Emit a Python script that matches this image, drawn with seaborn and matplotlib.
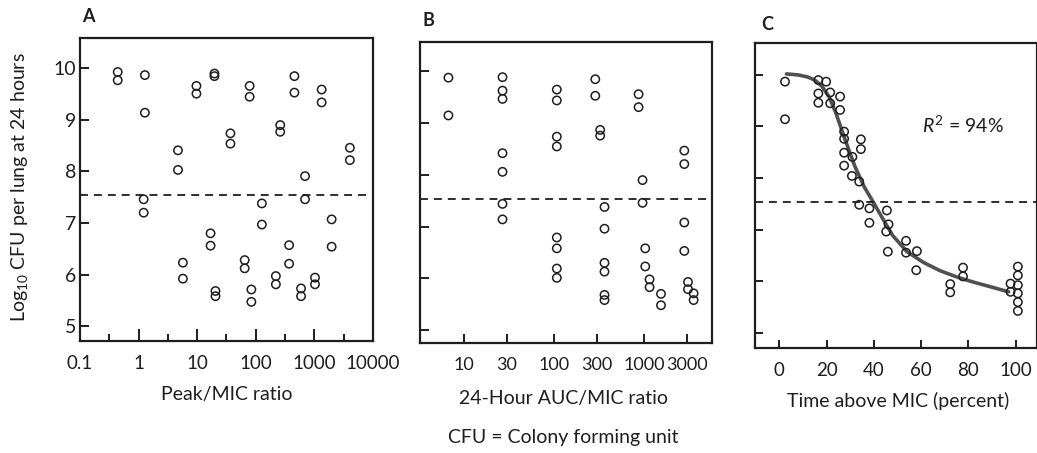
import numpy as np
import pandas as pd
import matplotlib
matplotlib.use("Agg")
import matplotlib.pyplot as plt
from matplotlib.ticker import FixedLocator, NullFormatter
import seaborn as sns

# Panel A: Peak/MIC ratio vs log10 CFU
peak_ratio = [0.44, 0.44, 1.28, 1.28, 1.22, 1.22, 4.7, 4.7, 5.7, 5.7, 9.7, 9.7,
              16.9, 16.9, 19.7, 19.7, 20.5, 20.5, 36.9, 36.9, 64.6, 64.6,
              78.5, 78.5, 84, 84, 127, 127, 220, 220, 261, 261, 370, 370,
              456, 456, 592, 592, 692, 692, 1023, 1023, 1330, 1330,
              1968, 1968, 4030, 4030]
peak_cfu = [9.93, 9.77, 9.87, 9.14, 7.46, 7.20, 8.41, 8.03, 6.23, 5.92, 9.66, 9.51,
            6.80, 6.56, 9.90, 9.85, 5.68, 5.58, 8.74, 8.54, 6.28, 6.12,
            9.66, 9.45, 5.71, 5.47, 7.38, 6.97, 5.97, 5.81, 8.90, 8.77, 6.57, 6.21,
            9.85, 9.53, 5.73, 5.58, 7.91, 7.46, 5.94, 5.81, 9.59, 9.34,
            7.07, 6.54, 8.46, 8.22]

# Panel B: 24-hour AUC/MIC ratio vs log10 CFU
auc_ratio = [6.7, 6.7,
             26.7, 26.7, 26.7, 26.7, 26.7, 26.7, 26.7,
             107, 107, 107, 107, 107, 107, 107, 107,
             286, 286, 324, 324,
             362, 362, 362, 362, 362, 362,
             865, 865, 957, 957, 1026, 1026, 1145, 1145, 1535, 1535,
             2783, 2783, 2783, 2783, 3060, 3060, 3530, 3530]
auc_cfu = [9.88, 9.15,
           9.89, 9.63, 9.47, 8.42, 8.06, 7.44, 7.14,
           9.65, 9.44, 8.74, 8.55, 6.79, 6.58, 6.19, 6.01,
           9.85, 9.53, 8.87, 8.76,
           7.38, 6.96, 6.30, 6.13, 5.68, 5.58,
           9.56, 9.31, 7.90, 7.46, 6.58, 6.23, 5.98, 5.83, 5.70, 5.48,
           8.47, 8.21, 7.08, 6.53, 5.93, 5.79, 5.71, 5.58]

# Panel C: time above MIC (%) vs log10 CFU
time_mic = [2.4, 2.4, 16.5, 19.8, 16.5, 21.5, 25.7, 16.5, 21.5, 25.7, 27.4, 27.4,
            34.5, 34.5, 27.4, 30.9, 27.4, 30.7, 33.8, 33.8, 38.1, 45.5, 38.1, 46.2,
            45.2, 53.6, 45.9, 53.6, 58.2, 57.9, 77.7, 77.7, 72.3, 72.3,
            100.9, 100.9, 97.8, 100.9, 97.8, 100.9, 100.9, 100.9]
time_cfu = [9.87, 9.14, 9.90, 9.87, 9.64, 9.66, 9.58, 9.46, 9.45, 9.32, 8.90, 8.76,
            8.75, 8.56, 8.49, 8.41, 8.24, 8.04, 7.93, 7.48, 7.41, 7.37, 7.13, 7.10,
            6.96, 6.78, 6.57, 6.55, 6.58, 6.21, 6.26, 6.09, 5.94, 5.78,
            6.28, 6.11, 5.95, 5.92, 5.79, 5.76, 5.59, 5.42]

# fitted curve
fit_time = [3, 8, 12, 15, 18, 21, 24, 28, 32, 36, 40, 44, 48, 54, 61, 68, 75, 82, 90, 97]
fit_cfu = [10.02, 10.0, 9.96, 9.9, 9.78, 9.58, 9.25, 8.72, 8.22, 7.82, 7.51, 7.19,
           6.88, 6.57, 6.36, 6.20, 6.08, 5.98, 5.88, 5.79]

stasis = 7.54
y_ticks = [5, 6, 7, 8, 9, 10]
peak_ticks = [0.1, 1, 10, 100, 1000, 10000]
peak_labels = ["0.1", "1", "10", "100", "1000", "10000"]
peak_minor = [0.316, 3.16, 31.6, 316, 3162]
auc_ticks = [10, 30, 100, 300, 1000, 3000]
auc_labels = ["10", "30", "100", "300", "1000", "3000"]
time_ticks = [0, 20, 40, 60, 80, 100]

sns.set_theme(style="ticks")
plt.rcParams['font.family'] = ['Lato', 'DejaVu Sans']
plt.rcParams['mathtext.fontset'] = 'custom'
plt.rcParams['mathtext.rm'] = 'Lato'
plt.rcParams['mathtext.it'] = 'Lato:italic'
ink = '#1e1e1e'
plt.rcParams['text.color'] = ink
plt.rcParams['axes.labelcolor'] = ink
plt.rcParams['xtick.color'] = ink
plt.rcParams['ytick.color'] = ink

W, H = 1037, 453
fig = plt.figure(figsize=(W / 100, H / 100), dpi=100)


def px_axes(left, top, right, bottom):
    return fig.add_axes([left / W, 1 - bottom / H, (right - left) / W, (bottom - top) / H])


axA = px_axes(80, 38, 373, 341)
axB = px_axes(420, 42, 712, 343)
axC = px_axes(755, 43, 1037, 348)

pt_kw = dict(marker='o', s=36, color=ink, facecolor='none', edgecolor=ink,
             linewidth=1.1, legend=False)

sns.scatterplot(x=peak_ratio, y=peak_cfu, ax=axA, **pt_kw)
sns.scatterplot(x=auc_ratio, y=auc_cfu, ax=axB, **pt_kw)
sns.lineplot(x=fit_time, y=fit_cfu, ax=axC, color='#505050', linewidth=2.6)
sns.scatterplot(x=time_mic, y=time_cfu, ax=axC, zorder=3, **pt_kw)

for ax in (axA, axB, axC):
    ax.axhline(stasis, color=ink, linewidth=1.3, linestyle=(0, (4.4, 3.3)))
    for s in ax.spines.values():
        s.set_visible(True)
        s.set_linewidth(1.6)
        s.set_color(ink)
    ax.set_yticks(y_ticks)
    ax.tick_params(axis='y', direction='in', length=6.5, width=1.4, pad=2.5,
                   labelsize=14)
    ax.tick_params(axis='x', which='major', direction='in', width=1.4, pad=10,
                   labelsize=13.5)
    ax.set_facecolor('white')

# Panel A
axA.set_xscale('log')
axA.set_xlim(0.1, 10000)
axA.set_ylim(4.71, 10.59)
axA.xaxis.set_major_locator(FixedLocator(peak_ticks))
axA.set_xticklabels(peak_labels)
axA.xaxis.set_minor_locator(FixedLocator(peak_minor))
axA.xaxis.set_minor_formatter(NullFormatter())
axA.tick_params(axis='x', which='major', length=8.6)
axA.tick_params(axis='x', which='minor', direction='in', length=5, width=1.4)
axA.set_xlabel('Peak/MIC ratio', fontsize=14, va='center')
axA.xaxis.set_label_coords(0.502, -0.175)

# Panel B
axB.set_xscale('log')
axB.set_xlim(3.24, 5650)
axB.set_ylim(4.75, 10.57)
axB.xaxis.set_major_locator(FixedLocator(auc_ticks))
axB.set_xticklabels(auc_labels, fontsize=13)
axB.xaxis.set_minor_locator(FixedLocator([]))
axB.tick_params(axis='x', which='major', length=6.5)
axB.tick_params(axis='y', labelleft=False)
axB.set_xlabel('24-Hour AUC/MIC ratio', fontsize=14, va='center')
axB.xaxis.set_label_coords(0.49, -0.183)

# Panel C
axC.set_xlim(-10.3, 109)
axC.set_ylim(4.70, 10.62)
axC.set_xticks(time_ticks)
axC.tick_params(axis='x', which='major', length=6)
axC.tick_params(axis='y', labelleft=False, length=6)
axC.set_xlabel('Time above MIC (percent)', fontsize=14, va='center')
axC.xaxis.set_label_coords(0.507, -0.174)
axC.text(77.7, 9.03, r'$R^2$ = 94%', fontsize=14, ha='center', va='center')

for ax in (axA, axB, axC):
    ax.set_ylabel('')

fig.text(20 / W, 1 - 187 / H, r'Log$_{10}$ CFU per lung at 24 hours', rotation=90,
         ha='center', va='center', fontsize=14)
fig.text(563 / W, 1 - 437 / H, 'CFU = Colony forming unit', ha='center',
         va='center', fontsize=14)
fig.text(82 / W, 1 - 17 / H, 'A', ha='left', va='center', fontsize=13, fontweight='bold')
fig.text(423 / W, 1 - 21 / H, 'B', ha='left', va='center', fontsize=13, fontweight='bold')
fig.text(761 / W, 1 - 24 / H, 'C', ha='left', va='center', fontsize=13, fontweight='bold')

fig.savefig('out.png', dpi=100, facecolor='white')
